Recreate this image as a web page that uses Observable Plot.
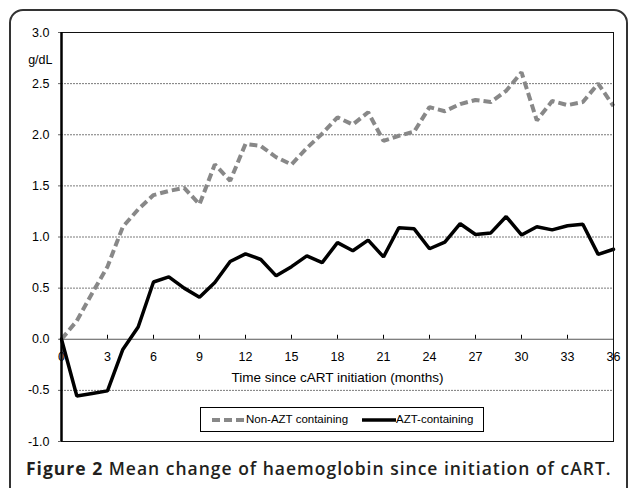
<!DOCTYPE html>
<html>
<head>
<meta charset="utf-8">
<script src="https://cdn.jsdelivr.net/npm/d3@7"></script>
<script src="https://cdn.jsdelivr.net/npm/@observablehq/plot@0.6"></script>
<style>
  html, body { margin: 0; padding: 0; background: #fff; overflow: hidden; }
  #wrap { position: relative; width: 629px; height: 488px; }
  #frame { position: absolute; left: 9px; top: 9px; width: 619px; height: 520px; box-sizing: border-box;
           border: 2px solid #333; border-radius: 14px; }
  #chart { position: absolute; left: 0; top: 0; }
  #legend { position: absolute; left: 200px; top: 407px; width: 284px; height: 25px; box-sizing: border-box;
            border: 1px solid #000; background: #fff; font-family: "Liberation Sans", Arial, sans-serif; font-size: 11.5px; color: #000; }
  #legend .s { position: absolute; top: 7px; }
  #legend .t { position: absolute; top: 4px; line-height: 15px; white-space: nowrap; }
  #caption { position: absolute; left: 26px; top: 458px; font-family: "Open Sans", "Noto Sans", sans-serif; font-size: 17.5px;
             letter-spacing: 1px; line-height: 20px; color: #231f20; white-space: nowrap; font-weight: 600; }
  #caption b { font-weight: 700; }
</style>
</head>
<body>
<div id="wrap">
  <div id="chart"></div>
  <div id="frame"></div>
  <div id="legend"></div>
  <div id="caption"><b>Figure 2</b> Mean change of haemoglobin since initiation of cART.</div>
</div>
<script>
const months = [0,1,2,3,4,5,6,7,8,9,10,11,12,13,14,15,16,17,18,19,20,21,22,23,24,25,26,27,28,29,30,31,32,33,34,35,36];
const nonAZT = [0, 0.18, 0.45, 0.71, 1.10, 1.27, 1.41, 1.45, 1.48, 1.32, 1.71, 1.55, 1.91, 1.89, 1.78, 1.71, 1.87, 2.01, 2.17, 2.10, 2.22, 1.94, 1.99, 2.03, 2.27, 2.23, 2.30, 2.34, 2.32, 2.43, 2.61, 2.14, 2.33, 2.29, 2.32, 2.50, 2.28];
const azt = [0, -0.555, -0.53, -0.505, -0.10, 0.12, 0.56, 0.61, 0.50, 0.41, 0.555, 0.76, 0.835, 0.78, 0.62, 0.71, 0.815, 0.75, 0.945, 0.865, 0.97, 0.805, 1.09, 1.08, 0.885, 0.95, 1.13, 1.025, 1.04, 1.20, 1.02, 1.10, 1.07, 1.11, 1.125, 0.83, 0.88];
const seriesNames = ["Non-AZT containing", "AZT-containing"];
const xTicks = [0,3,6,9,12,15,18,21,24,27,30,33,36];
const yTicks = [-1.0,-0.5,0.0,0.5,1.0,1.5,2.0,2.5,3.0];
const gridVals = [-0.5,0.5,1.0,1.5,2.0,2.5];
const yUnit = "g/dL";
const xTitle = "Time since cART initiation (months)";

const rowsNon = months.map((m, i) => ({m, v: nonAZT[i]}));
const rowsAzt = months.map((m, i) => ({m, v: azt[i]}));

const font = "Liberation Sans, Arial, sans-serif";
const chart = Plot.plot({
  width: 629, height: 450,
  marginLeft: 61, marginRight: 16, marginTop: 32, marginBottom: 9,
  style: {fontFamily: font, fontSize: "12.5px", color: "#000", background: "transparent"},
  x: {domain: [0, 36], axis: null},
  y: {domain: [-1, 3], axis: null},
  marks: [
    Plot.ruleY(gridVals, {stroke: "#7a7a7a", strokeWidth: 1, strokeDasharray: "2,1"}),
    Plot.ruleY([0], {stroke: "#555", strokeWidth: 1}),
    Plot.axisY(yTicks, {tickSize: 3, tickPadding: 9, stroke: "#666", tickFormat: d => d.toFixed(1), fontSize: 12.5, label: null}),
    Plot.text([yUnit], {frameAnchor: "top-left", dx: -9, dy: 23, textAnchor: "end", fontSize: 12.5}),
    Plot.ruleX(xTicks, {x: d => d, y1: () => 0, y2: () => 0, insetBottom: 4, stroke: "#000", strokeWidth: 1}),
    Plot.text(xTicks, {x: d => d, y: () => 0, text: d => String(d), dy: 18, fontSize: 12.5}),
    Plot.text([xTitle], {y: () => 0, frameAnchor: "middle", dy: 38.5, fontSize: 13.5}),
    Plot.line(rowsNon, {x: "m", y: "v", stroke: "#888", strokeWidth: 4, strokeDasharray: "8,4", strokeLinejoin: "miter", strokeLinecap: "butt"}),
    Plot.line(rowsAzt, {x: "m", y: "v", stroke: "#000", strokeWidth: 3.5, strokeLinejoin: "miter"}),
    Plot.frame({stroke: "#111", strokeWidth: 1}),
    Plot.ruleX([0], {stroke: "#000", strokeWidth: 2.5})
  ]
});
document.getElementById("chart").appendChild(chart);

const lg = document.getElementById("legend");
lg.innerHTML =
  `<svg class="s" style="left:11px" width="34" height="10"><line x1="0" y1="5" x2="34" y2="5" stroke="#888" stroke-width="4" stroke-dasharray="8,4"/></svg>` +
  `<span class="t" style="left:45px">${seriesNames[0]}</span>` +
  `<svg class="s" style="left:161px" width="34" height="10"><line x1="0" y1="5" x2="34" y2="5" stroke="#000" stroke-width="3.5"/></svg>` +
  `<span class="t" style="left:195px">${seriesNames[1]}</span>`;
</script>
</body>
</html>
